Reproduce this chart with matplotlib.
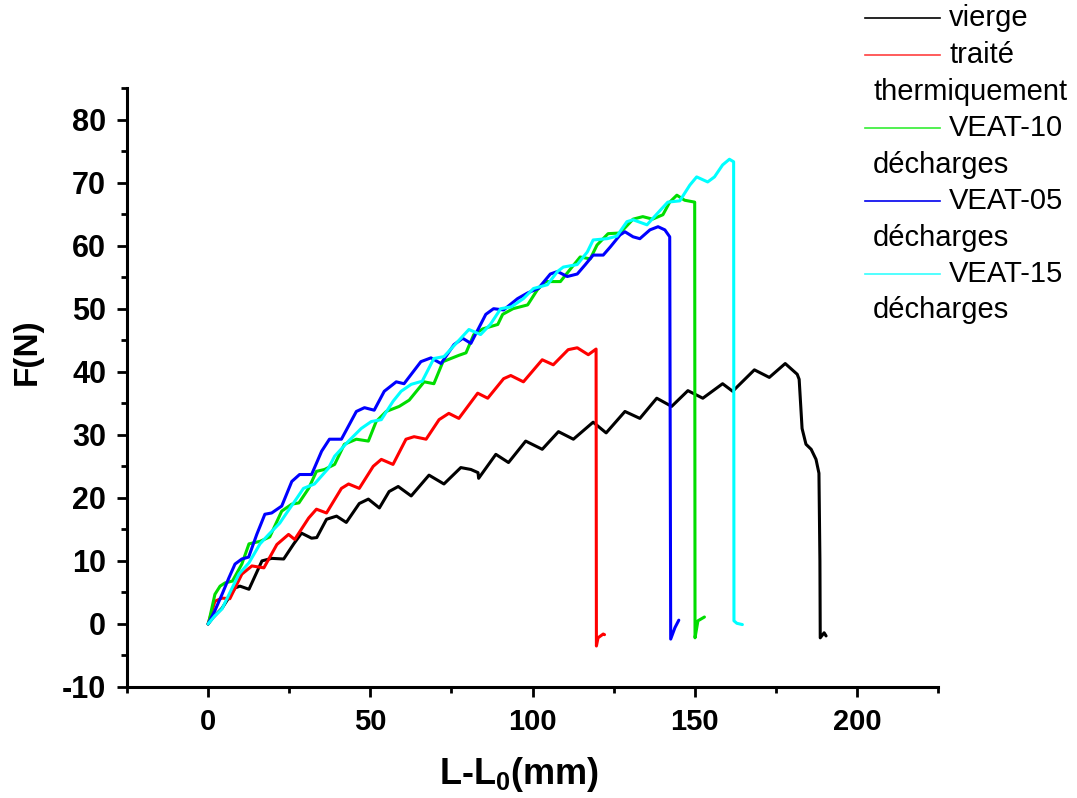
import matplotlib
matplotlib.use('Agg')
import matplotlib.pyplot as plt
from matplotlib.lines import Line2D
from matplotlib import font_manager as fm
from matplotlib.ticker import MultipleLocator

plt.rcParams['axes.unicode_minus'] = False
names = {f.name for f in fm.fontManager.ttflist}
NARROW = 'Liberation Sans Narrow' if 'Liberation Sans Narrow' in names else 'Liberation Sans'
SANS = 'Liberation Sans'

# ---------------- data ----------------
vierge_x = [0, 1.5, 4.3, 8.3, 9.8, 12.6, 16.6, 19.6, 23.3, 26.4, 28.8, 31.9, 33.5, 36.5, 39.6, 42.6,
            46.6, 49.4, 52.8, 55.8, 58.6, 62.6, 68.1, 72.7, 77.9, 81, 83.2, 83.4, 88.7, 92.6, 97.9,
            103, 108, 112.6, 118.7, 122.7, 128.5, 133.1, 138.3, 142.9, 147.9, 152.5, 158.6, 161.7,
            168.4, 173, 177.9, 181.6, 182.2, 183.1, 184.3, 185.9, 187.4, 188.3, 188.6, 188.7, 189.9, 190.5]
vierge_y = [0, 1.0, 2.5, 5.7, 6.0, 5.5, 10.0, 10.4, 10.3, 12.7, 14.4, 13.6, 13.7, 16.6, 17.1, 16.1,
            19.1, 19.8, 18.4, 21.0, 21.8, 20.3, 23.6, 22.2, 24.8, 24.5, 24.0, 23.1, 26.9, 25.6, 29.0,
            27.7, 30.5, 29.3, 32.0, 30.3, 33.7, 32.6, 35.8, 34.5, 37.0, 35.8, 38.1, 36.9,
            40.3, 39.1, 41.3, 39.6, 38.8, 31.0, 28.5, 27.7, 26.1, 23.9, 10.0, -2.2, -1.4, -1.9]

traite_x = [0, 2.1, 4.3, 6.7, 10.4, 13.5, 17.2, 21.2, 24.8, 26.7, 31, 33.4, 36.5, 41.1, 43.3, 46.6,
            50.9, 53.4, 57, 61, 63.5, 67.2, 71.2, 74.2, 77.3, 83.1, 86.2, 91.1, 93.3, 97.2, 103,
            106.4, 111, 113.8, 117.2, 119.6, 119.7, 120.2, 121.8, 122.2]
traite_y = [0, 3.6, 4.1, 4.0, 7.9, 9.2, 8.9, 12.6, 14.2, 13.4, 16.8, 18.2, 17.6, 21.5, 22.2, 21.5,
            25.0, 26.1, 25.3, 29.3, 29.7, 29.3, 32.4, 33.4, 32.6, 36.6, 35.8, 38.9, 39.4, 38.4, 41.9,
            41.1, 43.5, 43.8, 42.7, 43.6, -3.5, -2.2, -1.6, -1.7]

veat10_x = [0, 0.3, 2.1, 3.7, 5.2, 7.5, 10.4, 12.6, 16, 19, 22.7, 25.8, 28, 31, 33.4, 35.9, 39, 42,
            45.7, 49.4, 51.8, 54.9, 58.9, 62, 66.6, 69.6, 72.4, 77.3, 79.5, 81.9, 84.7, 89.3, 90.8,
            94, 98.5, 101.5, 104, 108.6, 111.7, 114.7, 117.8, 119.9, 123.3, 127, 131, 134, 137,
            140.2, 142.3, 144.5, 146.9, 150, 150.1, 151, 153]
veat10_y = [0, 0.5, 4.7, 6.0, 6.5, 6.8, 9.5, 12.7, 13.1, 13.8, 17.9, 19.0, 19.2, 21.5, 24.2, 24.5,
            25.3, 28.5, 29.3, 29.0, 32.1, 33.7, 34.5, 35.5, 38.4, 38.1, 41.6, 42.6, 43.0, 45.9, 46.8,
            47.5, 49.1, 50.0, 50.6, 53.0, 54.3, 54.3, 56.3, 58.2, 57.9, 60.1, 61.9, 62.0, 64.2, 64.6,
            64.2, 64.9, 66.9, 68.0, 67.2, 66.9, -2.2, 0.5, 1.1]

veat05_x = [0, 2, 4.3, 6.4, 8.3, 10.4, 12.5, 15, 17.5, 19.6, 22.7, 25.8, 28.2, 31.9, 35, 37.4, 41.1,
            45.7, 48.2, 51.2, 54.3, 58, 60.4, 65.6, 68.7, 71.8, 75.8, 78.5, 81, 85.6, 88, 91.1, 95.4,
            98.5, 101.8, 105.5, 107.7, 110.7, 113.8, 116.3, 118.7, 121.8, 124, 127, 128.5, 131,
            133.1, 136.2, 138.7, 140.8, 142.3, 142.6, 143.9, 145.1]
veat05_y = [0, 2.0, 4.7, 7.3, 9.5, 10.3, 10.6, 14.2, 17.4, 17.6, 18.7, 22.6, 23.7, 23.7, 27.4, 29.3,
            29.3, 33.7, 34.3, 33.9, 36.9, 38.4, 38.1, 41.6, 42.2, 41.3, 44.3, 45.3, 44.5, 49.1, 50.0,
            49.8, 51.6, 52.5, 53.2, 55.5, 55.9, 55.1, 55.5, 57.0, 58.5, 58.5, 59.8, 61.7, 62.2, 61.4,
            61.1, 62.5, 63.0, 62.5, 61.4, -2.4, -0.6, 0.6]

veat15_x = [0, 2.1, 4.3, 7.4, 9.5, 12.6, 16, 18.7, 22.1, 24.2, 27.3, 29.4, 32.8, 37.1, 39, 43.3, 47.2,
            50.3, 53.4, 57, 59.5, 62.6, 66, 69.6, 72.7, 77, 80.4, 84, 87, 90.2, 93.5, 97.2, 100.3,
            104.6, 107.7, 109.5, 113.8, 116.9, 118.7, 123, 126, 129.1, 131, 135.3, 138.3, 141.7,
            145.4, 148.5, 150.6, 154, 156.1, 158.6, 160.7, 162, 162.1, 163, 164.7]
veat15_y = [0, 1.3, 2.4, 5.7, 7.9, 9.7, 12.7, 14.2, 16.0, 17.6, 19.9, 21.5, 22.2, 24.7, 26.6, 29.0,
            31.0, 32.1, 32.4, 35.3, 36.9, 38.0, 38.5, 42.1, 42.4, 44.8, 46.7, 45.9, 47.5, 50.0, 50.3,
            51.6, 53.2, 53.8, 55.9, 56.6, 57.0, 59.0, 60.9, 61.1, 61.5, 63.8, 64.1, 63.3, 65.0, 66.9,
            67.1, 69.6, 70.9, 70.1, 70.9, 72.8, 73.7, 73.3, 0.5, 0.1, -0.1]

series_labels = ['vierge', 'traité\nthermiquement', 'VEAT-10\ndécharges',
                 'VEAT-05\ndécharges', 'VEAT-15\ndécharges']
series_colors = ['#000000', '#ff0000', '#00dd00', '#0000ff', '#00ffff']
legend_colors = ['#000000', '#ff4040', '#33ee33', '#0000ee', '#33ffff']
xticks = [0, 50, 100, 150, 200]
yticks = [-10, 0, 10, 20, 30, 40, 50, 60, 70, 80]

# ---------------- figure ----------------
W, H = 1077, 798
fig = plt.figure(figsize=(W / 100, H / 100), dpi=100)
ax = fig.add_axes([127 / W, 1 - 687 / H, (938 - 127) / W, (687 - 88) / H])

all_x = [vierge_x, traite_x, veat10_x, veat05_x, veat15_x]
all_y = [vierge_y, traite_y, veat10_y, veat05_y, veat15_y]
for xs, ys, c in zip(all_x, all_y, series_colors):
    ax.plot(xs, ys, color=c, lw=2.2, solid_joinstyle='round', solid_capstyle='round')

ax.set_xlim(-25, 225)
ax.set_ylim(-10, 85)
for s in ['top', 'right']:
    ax.spines[s].set_visible(False)
for s in ['left', 'bottom']:
    ax.spines[s].set_linewidth(2.2)

ax.set_xticks(xticks)
ax.set_yticks(yticks)
ax.xaxis.set_minor_locator(MultipleLocator(25))
ax.yaxis.set_minor_locator(MultipleLocator(5))
ax.tick_params(which='major', direction='out', length=7, width=2.0, pad=8)
ax.tick_params(which='minor', direction='out', length=4, width=2.0)
for lab in ax.get_xticklabels():
    lab.set_fontfamily(NARROW)
    lab.set_fontweight('bold')
    lab.set_fontsize(21)
for lab in ax.get_yticklabels():
    lab.set_fontfamily(SANS)
    lab.set_fontweight('bold')
    lab.set_fontsize(22)

plt.rcParams['mathtext.fontset'] = 'custom'
plt.rcParams['mathtext.rm'] = NARROW + ':bold'
plt.rcParams['mathtext.bf'] = NARROW + ':bold'
plt.rcParams['mathtext.it'] = NARROW + ':bold'

fig.text(519 / W, 1 - 775 / H, r'L-L$_\mathbf{0}$(mm)', ha='center', va='center',
         fontsize=26, fontweight='bold', family=NARROW)
fig.text(27 / W, 1 - 352 / H, 'F(N)', ha='center', va='center', rotation=90,
         fontsize=24, fontweight='bold', family=SANS)

# ---------------- legend (outside, top right) ----------------
row_y = [18, 55, 92, 128, 165, 201, 238, 274, 310]
row = 0
for lab, c in zip(series_labels, legend_colors):
    lines = lab.split('\n')
    y = row_y[row]
    fig.add_artist(Line2D([865 / W, 940 / W], [1 - y / H, 1 - y / H], color=c, lw=1.2,
                          transform=fig.transFigure))
    fig.text(949 / W, 1 - y / H, lines[0], ha='left', va='center', fontsize=21, family=SANS)
    row += 1
    for extra in lines[1:]:
        y = row_y[row]
        fig.text(873 / W, 1 - y / H, extra, ha='left', va='center', fontsize=21, family=SANS)
        row += 1

fig.savefig('out.png', dpi=100)
